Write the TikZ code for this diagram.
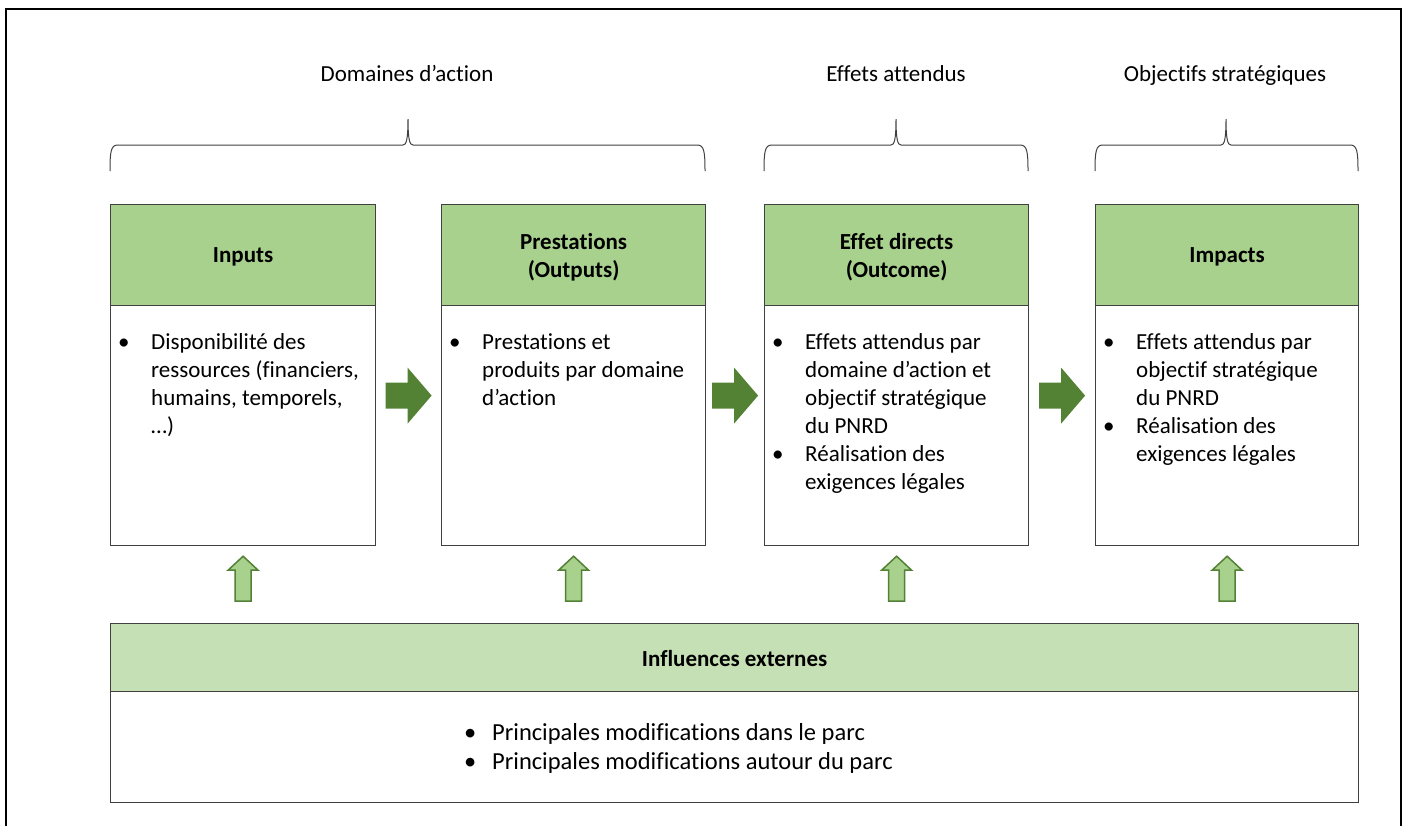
\documentclass[tikz,border=0pt]{standalone}
\usepackage{fontspec}
\setmainfont{Carlito}[Ligatures=NoCommon]
\usetikzlibrary{calc}
\definecolor{hdrgreen}{HTML}{A9D18E}
\definecolor{lightgreen}{HTML}{C5E0B4}
\definecolor{darkgreen}{HTML}{548235}
\definecolor{arrowline}{HTML}{538135}
\definecolor{boxline}{HTML}{404040}
\newcommand{\blist}[2][33pt]{\begin{tabular}{@{}p{#1}@{}l@{}}#2\end{tabular}}
\newcommand{\mybrace}[3]{%
  \draw[bracestyle] (#1,171) .. controls (#1,151) and (#1+1,145) .. (#1+8,145)
    -- (#3-5,145) .. controls (#3-2,145) and (#3,141) .. (#3,119)
    .. controls (#3,141) and (#3+2,145) .. (#3+5,145)
    -- (#2-8,145) .. controls (#2-1,145) and (#2,151) .. (#2,171);}
\begin{document}
\begin{tikzpicture}[x=1pt,y=-1pt,
  hdr/.style={draw=boxline, line width=1.2pt, fill=hdrgreen, anchor=north west, inner sep=0pt},
  hdrtext/.style={inner sep=0pt, align=center, font=\fontsize{23}{28}\selectfont\bfseries},
  bodybox/.style={draw=boxline, line width=1.2pt, fill=white, anchor=north west, inner sep=0pt},
  bodytext/.style={anchor=north west, inner sep=0pt, font=\fontsize{23}{28}\selectfont},
  toplabel/.style={anchor=base, inner sep=0pt, font=\fontsize{23}{28}\selectfont},
  bigarrow/.style={fill=darkgreen},
  uparrow/.style={fill=hdrgreen, draw=arrowline, line width=1.5pt},
  bracestyle/.style={draw=black!75, line width=1pt},
  frame/.style={draw=black, line width=2pt}]
\useasboundingbox (0,0) rectangle (1408,825);
\draw[frame] (6,840) -- (6,9) -- (1401,9) -- (1401,840);

% top labels and braces
\node[toplabel] (lab1) at (407,81) {Domaines d’action};
\node[toplabel] (lab2) at (896,81) {Effets attendus};
\node[toplabel] (lab3) at (1225,81) {Objectifs stratégiques};
\mybrace{110}{705}{408}
\mybrace{764}{1028}{896}
\mybrace{1095}{1358}{1226}

% boxes
\node[bodybox, minimum width=265pt, minimum height=240pt] (inB) at (110,305) {};
\node[hdr, minimum width=265pt, minimum height=101pt] (inH) at (110,204) {};
\node[bodybox, minimum width=264pt, minimum height=240pt] (prB) at (441,305) {};
\node[hdr, minimum width=264pt, minimum height=101pt] (prH) at (441,204) {};
\node[bodybox, minimum width=264pt, minimum height=240pt] (efB) at (764,305) {};
\node[hdr, minimum width=264pt, minimum height=101pt] (efH) at (764,204) {};
\node[bodybox, minimum width=263pt, minimum height=240pt] (imB) at (1095,305) {};
\node[hdr, minimum width=263pt, minimum height=101pt] (imH) at (1095,204) {};

\node[hdrtext] (inL) at ($(inH.center)+(0,2)$) {Inputs};
\node[hdrtext] (prL) at ($(prH.center)+(0,2)$) {Prestations\\(Outputs)};
\node[hdrtext] (efL) at ($(efH.center)+(0,2)$) {Effet directs\\(Outcome)};
\node[hdrtext] (imL) at ($(imH.center)+(0,2)$) {Impacts};

% body texts
\node[bodytext] (inT) at ($(inB.north west)+(8,24.5)$) {\blist{• & Disponibilité des\\ & ressources (financiers,\\ & humains, temporels,\\ & …)}};
\node[bodytext] (prT) at ($(prB.north west)+(8,24.5)$) {\blist{• & Prestations et\\ & produits par domaine\\ & d’action}};
\node[bodytext] (efT) at ($(efB.north west)+(8,24.5)$) {\blist{• & Effets attendus par\\ & domaine d’action et\\ & objectif stratégique\\ & du PNRD\\ • & Réalisation des\\ & exigences légales}};
\node[bodytext] (imT) at ($(imB.north west)+(8,24.5)$) {\blist{• & Effets attendus par\\ & objectif stratégique\\ & du PNRD\\ • & Réalisation des\\ & exigences légales}};

% bottom box
\node[bodybox, minimum width=1248pt, minimum height=111pt] (exB) at (110,691) {};
\node[hdr, fill=lightgreen, minimum width=1248pt, minimum height=68pt] (exH) at (110,623) {};
\node[hdrtext] (exL) at ($(exH.center)+(0,1)$) {Influences externes};
\node[anchor=north west, inner sep=0pt, font=\fontsize{24.5}{29}\selectfont] (exT) at (464,719.5)
  {\blist[28pt]{• & Principales modifications dans le parc\\ • & Principales modifications autour du parc}};

% big arrows between boxes
\foreach \a/\b in {inB/prB, prB/efB, efB/imB}{
  \fill[bigarrow, shift={($(\a.east)!0.5!(\b.west)+(-23,-30)$)}]
    (0,-13) -- (22,-13) -- (22,-28) -- (46,0) -- (22,28) -- (22,13) -- (0,13) -- cycle;
}
% up arrows from external influences
\foreach \b in {inB, prB, efB, imB}{
  \draw[uparrow, shift={($(\b.south)+(0,10)$)}]
    (0,0) -- (15,14) -- (8,14) -- (8,45) -- (-8,45) -- (-8,14) -- (-15,14) -- cycle;
}
\end{tikzpicture}
\end{document}
